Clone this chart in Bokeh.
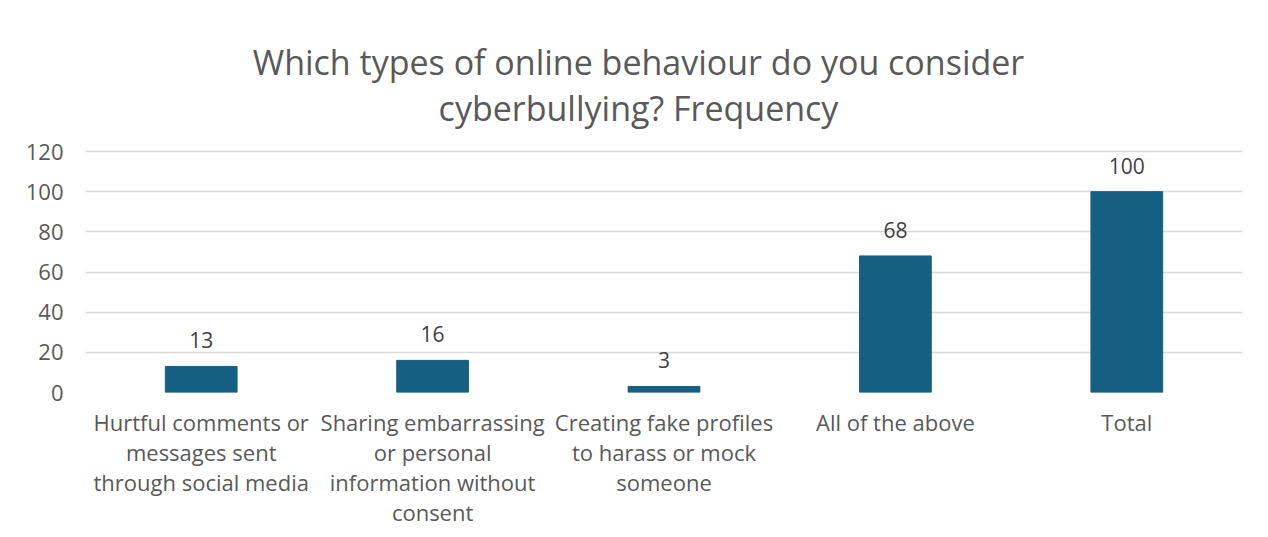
from bokeh.plotting import figure
from bokeh.models import ColumnDataSource, LabelSet, Label, FactorRange, Range1d, FixedTicker
from bokeh.core.properties import value
from bokeh.embed import file_html
from bokeh.resources import INLINE

categories = [
    "Hurtful comments or\nmessages sent\nthrough social media",
    "Sharing embarrassing\nor personal\ninformation without\nconsent",
    "Creating fake profiles\nto harass or mock\nsomeone",
    "All of the above",
    "Total",
]
values = [13, 16, 3, 68, 100]
y_ticks = [0, 20, 40, 60, 80, 100, 120]
title_lines = ["Which types of online behaviour do you consider", "cyberbullying? Frequency"]

FONT = "Open Sans"
GRAY = "#595959"
BAR = "#156082"

W, H = 1264, 535
TOP, BOTTOM, LEFT, RIGHT = 4, 143, 85, 22
PX_PER_UNIT = 241 / 120          # vertical pixels per value unit (0 -> 120 spans 241 px)
frame_h = H - TOP - BOTTOM
y_end = frame_h / PX_PER_UNIT    # frame extended upward to hold the title

p = figure(width=W, height=H, x_range=FactorRange(*categories), y_range=Range1d(0, y_end),
           output_backend="svg", toolbar_location=None,
           min_border_left=LEFT, min_border_right=RIGHT, min_border_top=TOP,
           min_border_bottom=BOTTOM)
p.title = None
p.x_range.range_padding = 0
p.outline_line_color = None
p.background_fill_color = "white"
p.border_fill_color = "white"

# title lines, drawn inside the (extended) frame
frame_bottom_px = H - BOTTOM
title_baselines_px = [61, 107]
title_x = (638 - LEFT) / ((W - LEFT - RIGHT) / len(categories))
for t, b in zip(title_lines, title_baselines_px):
    p.add_layout(Label(x=title_x, y=(frame_bottom_px - b) / PX_PER_UNIT,
                       text=t, text_align="center", text_baseline="alphabetic",
                       text_font=FONT, text_font_size="34px", text_color=GRAY))

src = ColumnDataSource(dict(cat=categories, val=values, lab=[str(v) for v in values]))
p.vbar(x="cat", top="val", width=0.31, source=src, fill_color=BAR, line_color=BAR)

labels = LabelSet(x="cat", y="val", text="lab", source=src, text_align="center",
                  text_baseline="alphabetic", y_offset=18, text_font=value(FONT),
                  text_font_size="21px", text_color="#404040")
p.add_layout(labels)

p.yaxis.ticker = FixedTicker(ticks=y_ticks)
p.ygrid.ticker = FixedTicker(ticks=y_ticks)
p.ygrid.grid_line_color = "#d9d9d9"
p.ygrid.grid_line_width = 1.5
p.xgrid.grid_line_color = None

for ax in (p.xaxis, p.yaxis):
    ax.axis_line_color = None
    ax.major_tick_line_color = None
    ax.minor_tick_line_color = None
    ax.major_label_text_font = FONT
    ax.major_label_text_font_size = "22px"
    ax.major_label_text_color = GRAY
p.yaxis.major_label_standoff = 16
p.xaxis.major_label_standoff = 8
p.xaxis.major_label_text_line_height = 1.0

open("out.html", "w").write(file_html(p, INLINE))
